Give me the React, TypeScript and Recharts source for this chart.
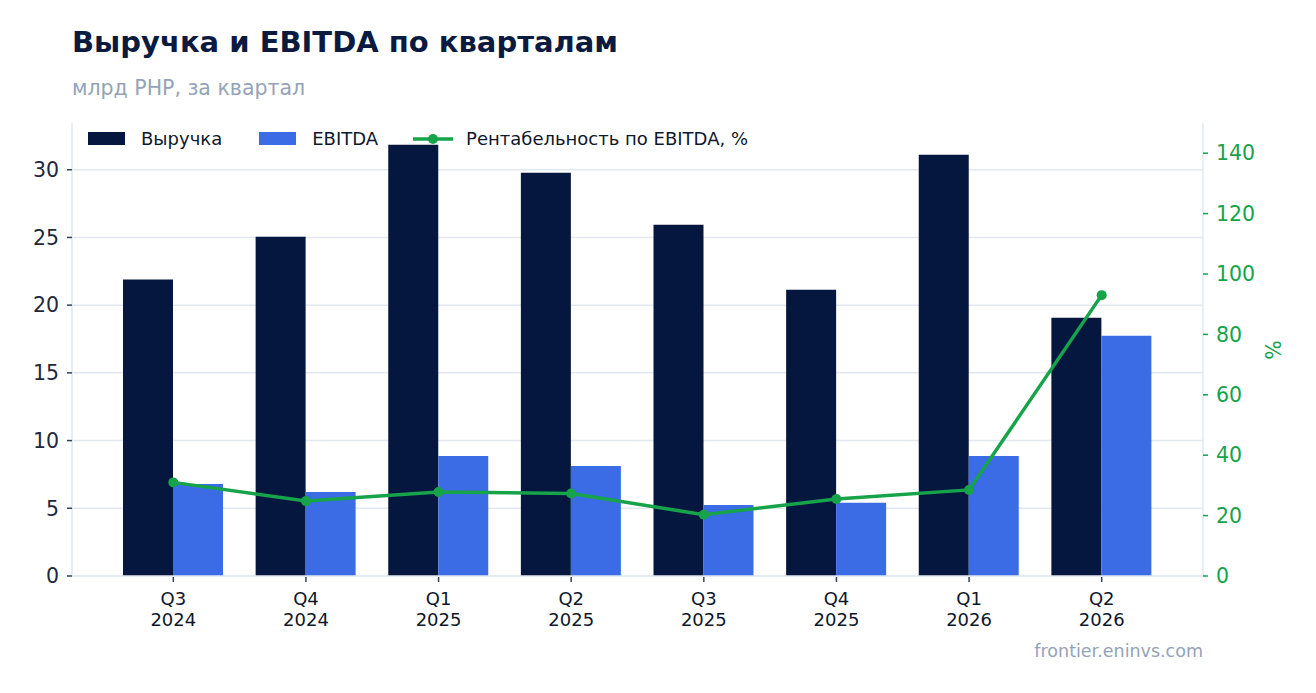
import React from 'react'
import {
  ComposedChart, Bar, Line, XAxis, YAxis, CartesianGrid,
} from 'recharts'

const quarters = ['Q3 2024', 'Q4 2024', 'Q1 2025', 'Q2 2025', 'Q3 2025', 'Q4 2025', 'Q1 2026', 'Q2 2026']
const revenue = [21.9, 25.05, 31.85, 29.78, 25.94, 21.14, 31.1, 19.07]
const ebitda = [6.8, 6.2, 8.87, 8.13, 5.25, 5.4, 8.87, 17.74]
const margin = [31.0, 24.8, 27.8, 27.3, 20.3, 25.5, 28.5, 93.0]
const leftTicks = [0, 5, 10, 15, 20, 25, 30]
const rightTicks = [0, 20, 40, 60, 80, 100, 120, 140]

const data = quarters.map((q, i) => ({ q, revenue: revenue[i], ebitda: ebitda[i], margin: margin[i] }))

const FONT = '"DejaVu Sans", sans-serif'
const NAVY = '#05173f'
const BLUE = '#3b6ce6'
const GREEN = '#16a34a'
const GRID = '#e2e8f0'

function QuarterTick({ x, y, payload }: any) {
  const [q, yr] = String(payload.value).split(' ')
  return (
    <g transform={`translate(${x},${y})`}>
      <line x1={0} x2={0} y1={1} y2={6} stroke="#334155" strokeWidth={1.5} />
      <text textAnchor="middle" fill="#0f172a" fontSize={18} fontFamily={FONT}>
        <tspan x={0} y={29}>{q}</tspan>
        <tspan x={0} y={50}>{yr}</tspan>
      </text>
    </g>
  )
}

export default function App() {
  return (
    <div style={{ position: 'absolute', left: 0, top: 0, width: 1316, height: 693, background: '#fff', fontFamily: FONT }}>
      <div style={{ position: 'absolute', left: 72, top: 25, fontSize: 29, fontWeight: 'bold', color: '#0b1a3f', whiteSpace: 'nowrap' }}>
        Выручка и EBITDA по кварталам
      </div>
      <div style={{ position: 'absolute', left: 72, top: 76, fontSize: 20.5, color: '#94a3b8', whiteSpace: 'nowrap' }}>
        млрд РНР, за квартал
      </div>
      <ComposedChart
        width={1316}
        height={693}
        data={data}
        margin={{ top: 123, right: 0, bottom: 57, left: 0 }}
        barGap={0}
        style={{ position: 'absolute', left: 0, top: 0 }}
      >
        <CartesianGrid
          yAxisId="left"
          vertical={false}
          horizontalValues={leftTicks}
          stroke={GRID}
          strokeWidth={1.5}
        />
        <XAxis
          dataKey="q"
          height={60}
          padding={{ left: 35, right: 35 }}
          axisLine={{ stroke: GRID, strokeWidth: 1.5 }}
          tickLine={false}
          tickSize={0}
          tickMargin={0}
          tick={<QuarterTick />}
          interval={0}
        />
        <YAxis
          yAxisId="left"
          width={72}
          domain={[0, 33.45]}
          ticks={leftTicks}
          axisLine={{ stroke: GRID, strokeWidth: 1.5 }}
          tickLine={{ stroke: '#334155', strokeWidth: 1.5 }}
          tickSize={5}
          tick={{ fill: '#1e293b', fontSize: 20.5, fontFamily: FONT }}
          tickMargin={8}
        />
        <YAxis
          yAxisId="right"
          orientation="right"
          width={113}
          domain={[0, 150]}
          ticks={rightTicks}
          axisLine={{ stroke: GRID, strokeWidth: 1.5 }}
          tickLine={{ stroke: GREEN, strokeWidth: 1.5 }}
          tickSize={5}
          tick={{ fill: GREEN, fontSize: 20.5, fontFamily: FONT }}
          tickMargin={8}
        />
        <Bar yAxisId="left" dataKey="revenue" fill={NAVY} barSize={50} isAnimationActive={false} />
        <Bar yAxisId="left" dataKey="ebitda" fill={BLUE} barSize={50} isAnimationActive={false} />
        <Line
          yAxisId="right"
          dataKey="margin"
          stroke={GREEN}
          strokeWidth={3.5}
          dot={{ r: 5, fill: GREEN, stroke: GREEN, strokeWidth: 0 }}
          activeDot={false}
          isAnimationActive={false}
        />
      </ComposedChart>
      <div style={{ position: 'absolute', left: 1264, top: 338, transform: 'rotate(-90deg)', color: GREEN, fontSize: 20.5 }}>%</div>
      {/* legend */}
      <div style={{ position: 'absolute', left: 88, top: 128, display: 'flex', alignItems: 'center', fontSize: 18, color: '#0f172a', whiteSpace: 'nowrap' }}>
        <span style={{ display: 'inline-block', width: 37, height: 13, background: NAVY, marginRight: 16 }} />
        <span style={{ marginRight: 37 }}>Выручка</span>
        <span style={{ display: 'inline-block', width: 37, height: 13, background: BLUE, marginRight: 16 }} />
        <span style={{ marginRight: 35 }}>EBITDA</span>
        <svg width={40} height={14} style={{ marginRight: 13 }}>
          <line x1={0} x2={40} y1={7} y2={7} stroke={GREEN} strokeWidth={3.5} />
          <circle cx={20} cy={7} r={5} fill={GREEN} />
        </svg>
        <span>Рентабельность по EBITDA, %</span>
      </div>
      <div style={{ position: 'absolute', right: 1316 - 1203, top: 641, fontSize: 17.5, color: '#94a3b8' }}>
        frontier.eninvs.com
      </div>
    </div>
  )
}
